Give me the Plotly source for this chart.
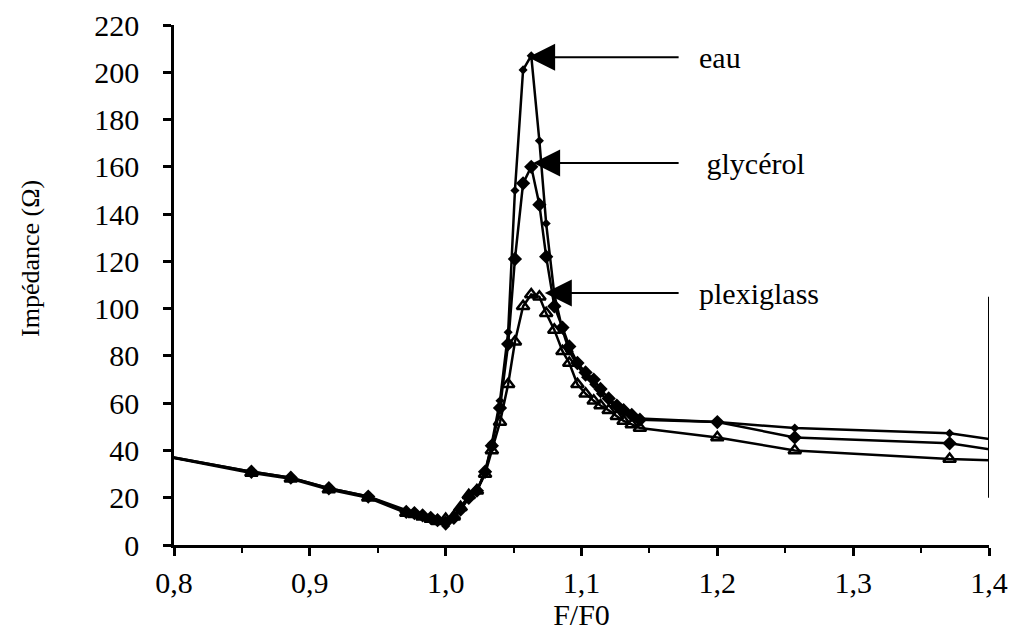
import plotly.graph_objects as go

# F/F0 values (shared by the three media)
ff0 = [0.771, 0.857, 0.886, 0.914, 0.943, 0.971, 0.977, 0.983, 0.989, 0.994,
       1.0, 1.006, 1.011, 1.017, 1.023, 1.029, 1.034, 1.04, 1.046, 1.051,
       1.057, 1.063, 1.069, 1.074, 1.08, 1.086, 1.091, 1.097, 1.103, 1.109,
       1.114, 1.12, 1.126, 1.131, 1.137, 1.143, 1.2, 1.257, 1.371, 1.429]

# Impedance (ohm)
eau = [40, 31, 28.5, 24, 20.5, 14.5, 13.5, 13, 11.5, 10.5,
       8, 11, 15, 20, 23, 31, 43, 61, 90, 150,
       201, 207, 171, 136, 106, 91, 82, 76, 71, 68,
       64, 61, 58, 56, 54.5, 53.5, 52, 49.5, 47.3, 42.3]
glycerol = [40, 31, 28.5, 24, 20.5, 14, 13.5, 12.5, 11.5, 10.5,
            9.5, 11.5, 15, 20, 23, 31, 42, 58, 85, 121,
            153, 160, 144, 122, 101, 92, 84, 77, 73, 70,
            66, 62, 59, 57, 55, 53, 52, 45.5, 43, 38]
plexiglass = [40, 30.5, 28, 23.5, 20, 13.5, 13, 12, 11, 10,
              11, 12, 16, 21, 23, 30, 40, 52, 68, 86,
              101, 106, 105, 98, 91, 82, 77, 68, 64, 61,
              59, 57, 54.5, 52.5, 51, 49.5, 45.5, 40, 36.4, 35.4]

labels = ['eau', ' glycérol', 'plexiglass']
arrow_tips = [(1.0607, 206.4), (1.0644, 161.6), (1.073, 106.6)]

font_name = 'Liberation Serif, Times New Roman, serif'
fsize = 30

fig = go.Figure()
fig.add_trace(go.Scatter(x=ff0, y=plexiglass, mode='lines+markers', name='plexiglass',
                         line=dict(color='black', width=2.5),
                         marker=dict(symbol='triangle-up-open', size=11, color='black',
                                     line=dict(width=2.5, color='black'))))
fig.add_trace(go.Scatter(x=ff0, y=glycerol, mode='lines+markers', name='glycérol',
                         line=dict(color='black', width=2.5),
                         marker=dict(symbol='diamond', size=11, color='black')))
fig.add_trace(go.Scatter(x=ff0, y=eau, mode='lines+markers', name='eau',
                         line=dict(color='black', width=2.5),
                         marker=dict(symbol='diamond', size=7, color='black')))

# arrows + labels
for lab, (tx, ty) in zip(labels, arrow_tips):
    fig.add_annotation(x=tx, y=ty, ax=1.1726, ay=ty, xref='x', yref='y', axref='x', ayref='y',
                       text='', showarrow=True, arrowhead=2, arrowsize=2.7, arrowwidth=2,
                       arrowcolor='black', standoff=0)
    fig.add_annotation(x=1.185, y=ty, xref='x', yref='y', text=lab, showarrow=False,
                       xanchor='left', yanchor='middle',
                       font=dict(family=font_name, size=fsize, color='black'))

# y axis title (sits a little above the plot centre in the original)
fig.add_annotation(x=0, y=121, xref='paper', yref='y', xshift=-144, text='Impédance (Ω)',
                   textangle=-90, showarrow=False, xanchor='center', yanchor='middle',
                   font=dict(family=font_name, size=26, color='black'))

# partial right frame line
fig.add_shape(type='line', xref='x', yref='y', x0=1.4, x1=1.4, y0=20, y1=105,
              line=dict(color='black', width=2))

fig.update_xaxes(range=[0.8, 1.4], dtick=0.1, tick0=0.8, tickformat='.1f',
                 ticks='outside', ticklen=8, tickwidth=2.5, tickcolor='black',
                 minor=dict(dtick=0.05, ticks='outside', ticklen=5, tickwidth=2, tickcolor='black'),
                 showline=True, linewidth=2.5, linecolor='black', showgrid=False, zeroline=False,
                 ticklabelstandoff=1, automargin=False,
                 tickfont=dict(family=font_name, size=fsize, color='black'),
                 title=dict(text='F/F0', standoff=14,
                            font=dict(family=font_name, size=fsize, color='black')))
fig.update_yaxes(range=[0, 220], dtick=20, ticks='outside', ticklen=8, tickwidth=2.5,
                 tickcolor='black', showline=True, linewidth=2.5, linecolor='black',
                 showgrid=False, zeroline=False, ticklabelstandoff=18, automargin=False,
                 tickfont=dict(family=font_name, size=fsize, color='black'))
# page body adds 8 px around the plot, so the figure is sized to fit the window
fig.update_layout(width=1005, height=623, showlegend=False, separators=', ',
                  plot_bgcolor='white', paper_bgcolor='white',
                  margin=dict(l=166, r=24, t=17, b=86))

fig.write_html("out.html")
